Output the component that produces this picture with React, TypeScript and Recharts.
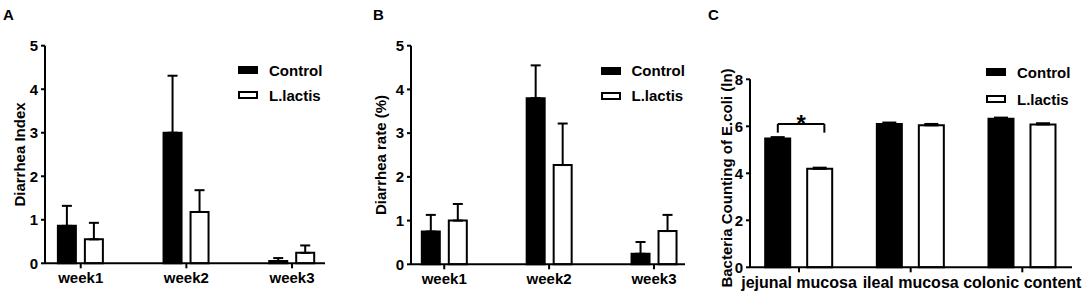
import React from 'react';
import { BarChart, Bar, XAxis, YAxis, ErrorBar, Legend, Label, ReferenceLine } from 'recharts';

const FONT = '"Liberation Sans", Arial, Helvetica, sans-serif';

// panel A / B categories
const weeks = ['week1', 'week2', 'week3'];

// A: diarrhea index (mean, upper SEM)
const indexControl = [0.86, 3.0, 0.05];
const indexControlErr = [0.46, 1.31, 0.07];
const indexLactis = [0.55, 1.18, 0.24];
const indexLactisErr = [0.38, 0.5, 0.17];

// B: diarrhea rate (%)
const rateControl = [0.75, 3.8, 0.24];
const rateControlErr = [0.38, 0.75, 0.27];
const rateLactis = [1.0, 2.27, 0.76];
const rateLactisErr = [0.38, 0.95, 0.37];

// C: E.coli counts (ln)
const sites = ['jejunal mucosa', 'ileal mucosa', 'colonic content'];
const ecoliControl = [5.48, 6.1, 6.32];
const ecoliControlErr = [0.06, 0.06, 0.05];
const ecoliLactis = [4.19, 6.04, 6.08];
const ecoliLactisErr = [0.05, 0.06, 0.05];

const yTicksAB = [0, 1, 2, 3, 4, 5];
const yTicksC = [0, 2, 4, 6, 8];

// significance bracket over jejunal mucosa
const bracketX = [0.81, 1.227];
const bracketY = [5.73, 6.1];

const makeRows = (cats: string[], c: number[], cErr: number[], l: number[], lErr: number[]) =>
  cats.map((name, i) => ({
    pos: i + 1,
    name,
    control: c[i],
    controlErr: [0, cErr[i]],
    lactis: l[i],
    lactisErr: [0, lErr[i]],
  }));

const rowsA = makeRows(weeks, indexControl, indexControlErr, indexLactis, indexLactisErr);
const rowsB = makeRows(weeks, rateControl, rateControlErr, rateLactis, rateLactisErr);
const rowsC = makeRows(sites, ecoliControl, ecoliControlErr, ecoliLactis, ecoliLactisErr);

const legendContent = (rowH: number) => (props: any) => (
  <div style={{ fontFamily: FONT, fontSize: 15, fontWeight: 'bold', color: '#000' }}>
    {(props.payload || []).map((e: any, i: number) => (
      <div key={i} style={{ display: 'flex', alignItems: 'center', height: rowH }}>
        <span
          style={{
            display: 'inline-block',
            width: 20,
            height: 8,
            boxSizing: 'border-box',
            border: '2px solid #000',
            background: e.color,
            marginRight: 11,
          }}
        />
        <span>{e.value}</span>
      </div>
    ))}
  </div>
);

function Panel(p: any) {
  const axisStyle = { stroke: '#000', strokeWidth: 2 };
  return (
    <div style={{ position: 'absolute', left: p.left, top: 0 }}>
      <BarChart width={p.width} height={295} data={p.rows} margin={p.margin} barGap={p.barGap} barSize={p.barSize}>
        <XAxis
          type="number"
          dataKey="pos"
          domain={p.xDomain}
          ticks={[1, 2, 3]}
          interval={0}
          tickFormatter={(v: number) => p.cats[v - 1]}
          height={p.xAxisHeight}
          axisLine={axisStyle}
          tickLine={axisStyle}
          tickSize={5}
          tickMargin={4}
          allowDataOverflow
          tick={{ fill: '#000', fontSize: p.xFont, fontWeight: 'bold', fontFamily: FONT }}
        />
        <YAxis
          type="number"
          domain={[0, p.yMax]}
          ticks={p.yTicks}
          interval={0}
          width={p.yAxisWidth}
          axisLine={axisStyle}
          tickLine={axisStyle}
          tickSize={4}
          tickMargin={3}
          tick={{ fill: '#000', fontSize: 15, fontWeight: 'bold', fontFamily: FONT }}
          label={
            <Label
              content={() => (
                <text
                  x={p.labelX}
                  y={p.labelY}
                  transform={`rotate(-90 ${p.labelX} ${p.labelY})`}
                  textAnchor="middle"
                  fill="#000"
                  fontSize={15}
                  fontWeight="bold"
                  fontFamily={FONT}
                >
                  {p.yLabel}
                </text>
              )}
            />
          }
        />
        <Bar dataKey="control" name="Control" fill="#000" stroke="#000" strokeWidth={2} isAnimationActive={false}>
          <ErrorBar dataKey="controlErr" width={p.errW} stroke="#000" strokeWidth={2} direction="y" />
        </Bar>
        <Bar dataKey="lactis" name="L.lactis" fill="#fff" stroke="#000" strokeWidth={2} isAnimationActive={false}>
          <ErrorBar dataKey="lactisErr" width={p.errW} stroke="#000" strokeWidth={2} direction="y" />
        </Bar>
        <Legend
          layout="horizontal"
          verticalAlign="middle"
          align="center"
          wrapperStyle={{ top: p.legend.top, left: p.legend.left, width: 'auto', height: 'auto' }}
          content={legendContent(p.legend.rowH)}
        />
        {p.bracket
          ? [
              <ReferenceLine
                key="top"
                segment={[{ x: bracketX[0], y: bracketY[1] }, { x: bracketX[1], y: bracketY[1] }]}
                stroke="#000"
                strokeWidth={2}
                label={{ value: '*', position: 'top', offset: -7.7, fontSize: 24, fontWeight: 'bold', fill: '#000', fontFamily: FONT }}
              />,
              <ReferenceLine
                key="l"
                segment={[{ x: bracketX[0], y: bracketY[0] }, { x: bracketX[0], y: bracketY[1] }]}
                stroke="#000"
                strokeWidth={2}
              />,
              <ReferenceLine
                key="r"
                segment={[{ x: bracketX[1], y: bracketY[0] }, { x: bracketX[1], y: bracketY[1] }]}
                stroke="#000"
                strokeWidth={2}
              />,
            ]
          : null}
      </BarChart>
    </div>
  );
}

const letterStyle = (left: number): React.CSSProperties => ({
  position: 'absolute',
  left,
  top: 7,
  fontFamily: FONT,
  fontSize: 15,
  fontWeight: 'bold',
  lineHeight: '15px',
  color: '#000',
});

export default function App() {
  return (
    <div style={{ position: 'absolute', left: 0, top: 0, width: 1084, height: 295, background: '#fff', overflow: 'hidden' }}>
      <div style={letterStyle(3)}>A</div>
      <div style={letterStyle(373)}>B</div>
      <div style={letterStyle(708)}>C</div>
      <Panel
        left={0}
        width={360}
        rows={rowsA}
        cats={weeks}
        margin={{ top: 45.7, right: 35, bottom: 1.7, left: 0 }}
        yAxisWidth={45}
        xAxisHeight={30}
        xDomain={[0.662, 3.312]}
        yMax={5}
        yTicks={yTicksAB}
        barSize={18}
        barGap={9}
        errW={5}
        xFont={15}
        yLabel="Diarrhea Index"
        labelX={25}
        labelY={154.5}
        legend={{ top: 57.5, left: 238, rowH: 25 }}
      />
      <Panel
        left={360}
        width={360}
        rows={rowsB}
        cats={weeks}
        margin={{ top: 45.7, right: 35, bottom: 0.7, left: 0 }}
        yAxisWidth={51}
        xAxisHeight={30}
        xDomain={[0.683, 3.296]}
        yMax={5}
        yTicks={yTicksAB}
        barSize={18}
        barGap={9}
        errW={5}
        xFont={15}
        yLabel="Diarrhea rate (%)"
        labelX={25.5}
        labelY={155}
        legend={{ top: 58, left: 240.5, rowH: 25 }}
      />
      <Panel
        left={700}
        width={384}
        rows={rowsC}
        cats={sites}
        margin={{ top: 79.3, right: 12, bottom: 0.7, left: 0 }}
        yAxisWidth={50}
        xAxisHeight={27}
        xDomain={[0.561, 3.445]}
        yMax={8}
        yTicks={yTicksC}
        barSize={25}
        barGap={17}
        errW={7}
        xFont={16}
        yLabel="Bacteria Counting of E.coli (ln)"
        labelX={31.5}
        labelY={178}
        legend={{ top: 59, left: 286, rowH: 26.7 }}
        bracket
      />
    </div>
  );
}
